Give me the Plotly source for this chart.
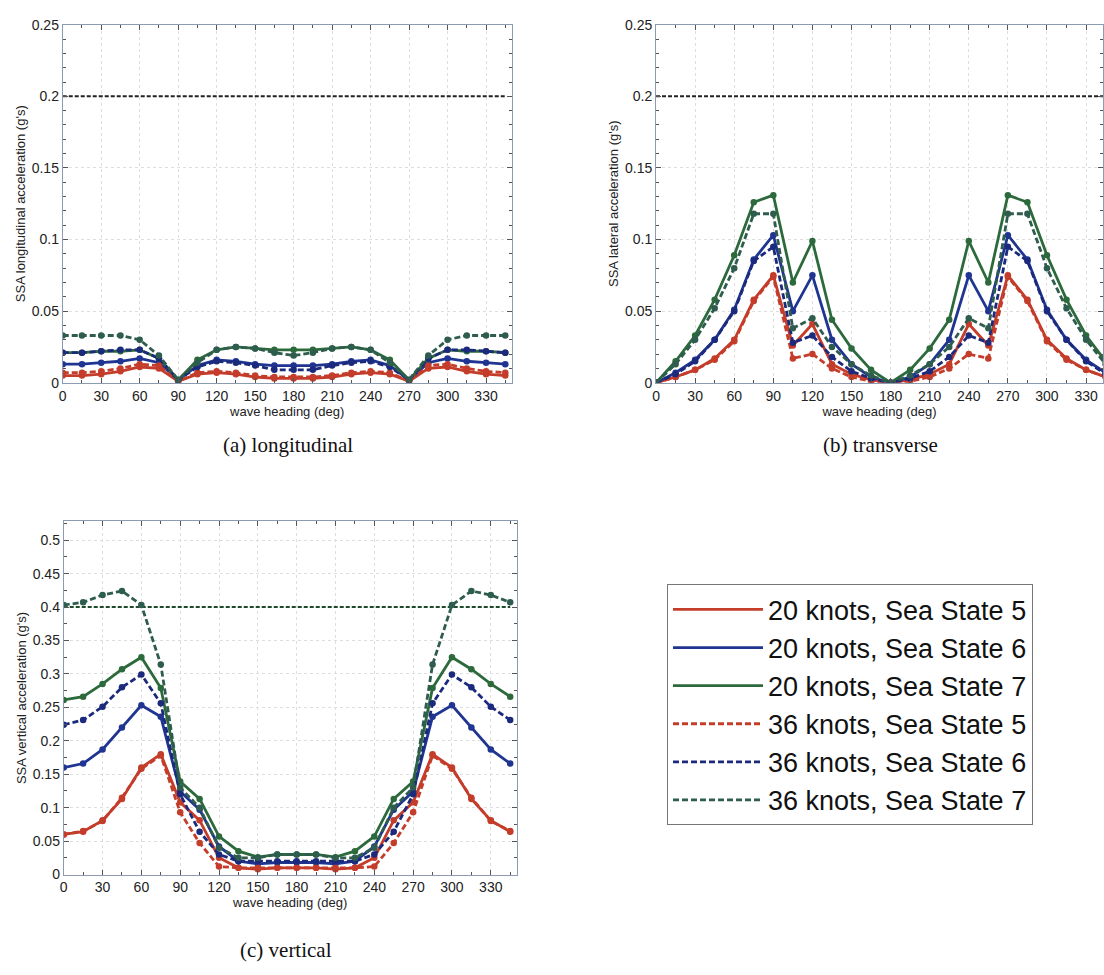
import plotly.graph_objects as go

headings = [0, 15, 30, 45, 60, 75, 90, 105, 120, 135, 150, 165, 180,
            195, 210, 225, 240, 255, 270, 285, 300, 315, 330, 345]

series_names = ["20 knots, Sea State 5", "20 knots, Sea State 6", "20 knots, Sea State 7",
                "36 knots, Sea State 5", "36 knots, Sea State 6", "36 knots, Sea State 7"]

# (a) longitudinal
long_20_ss5 = [0.005, 0.005, 0.006, 0.008, 0.011, 0.010, 0.001, 0.006, 0.007, 0.006, 0.004, 0.003, 0.003,
               0.003, 0.004, 0.006, 0.007, 0.006, 0.001, 0.010, 0.011, 0.008, 0.006, 0.005]
long_20_ss6 = [0.013, 0.013, 0.014, 0.015, 0.017, 0.014, 0.002, 0.012, 0.016, 0.015, 0.013, 0.012, 0.012,
               0.012, 0.013, 0.015, 0.016, 0.012, 0.002, 0.014, 0.017, 0.015, 0.014, 0.013]
long_20_ss7 = [0.021, 0.021, 0.022, 0.022, 0.023, 0.017, 0.002, 0.016, 0.023, 0.025, 0.024, 0.023, 0.023,
               0.023, 0.024, 0.025, 0.023, 0.016, 0.002, 0.017, 0.023, 0.022, 0.022, 0.021]
long_36_ss5 = [0.007, 0.007, 0.008, 0.010, 0.013, 0.012, 0.001, 0.007, 0.008, 0.007, 0.005, 0.004, 0.004,
               0.004, 0.005, 0.007, 0.008, 0.007, 0.001, 0.012, 0.013, 0.010, 0.008, 0.007]
long_36_ss6 = [0.021, 0.021, 0.022, 0.023, 0.023, 0.017, 0.002, 0.011, 0.015, 0.014, 0.012, 0.009, 0.009,
               0.009, 0.012, 0.014, 0.015, 0.011, 0.002, 0.017, 0.023, 0.023, 0.022, 0.021]
long_36_ss7 = [0.033, 0.033, 0.033, 0.033, 0.030, 0.019, 0.002, 0.014, 0.023, 0.025, 0.024, 0.021, 0.019,
               0.021, 0.024, 0.025, 0.023, 0.014, 0.002, 0.019, 0.030, 0.033, 0.033, 0.033]

# (b) transverse
lat_20_ss5 = [0.000, 0.004, 0.009, 0.017, 0.030, 0.058, 0.075, 0.026, 0.041, 0.013, 0.006, 0.002, 0.000,
              0.002, 0.006, 0.013, 0.041, 0.026, 0.075, 0.058, 0.030, 0.017, 0.009, 0.004]
lat_20_ss6 = [0.000, 0.007, 0.016, 0.030, 0.051, 0.086, 0.103, 0.050, 0.075, 0.030, 0.013, 0.004, 0.000,
              0.004, 0.013, 0.030, 0.075, 0.050, 0.103, 0.086, 0.051, 0.030, 0.016, 0.007]
lat_20_ss7 = [0.000, 0.015, 0.033, 0.058, 0.089, 0.126, 0.131, 0.070, 0.099, 0.044, 0.024, 0.009, 0.000,
              0.009, 0.024, 0.044, 0.099, 0.070, 0.131, 0.126, 0.089, 0.058, 0.033, 0.015]
lat_36_ss5 = [0.000, 0.004, 0.009, 0.016, 0.029, 0.057, 0.074, 0.017, 0.020, 0.010, 0.004, 0.001, 0.000,
              0.001, 0.004, 0.010, 0.020, 0.017, 0.074, 0.057, 0.029, 0.016, 0.009, 0.004]
lat_36_ss6 = [0.000, 0.006, 0.015, 0.030, 0.050, 0.085, 0.095, 0.028, 0.033, 0.018, 0.008, 0.003, 0.000,
              0.003, 0.008, 0.018, 0.033, 0.028, 0.095, 0.085, 0.050, 0.030, 0.015, 0.006]
lat_36_ss7 = [0.000, 0.013, 0.030, 0.052, 0.080, 0.118, 0.118, 0.038, 0.045, 0.025, 0.013, 0.005, 0.000,
              0.005, 0.013, 0.025, 0.045, 0.038, 0.118, 0.118, 0.080, 0.052, 0.030, 0.013]

# (c) vertical
vert_20_ss5 = [0.060, 0.064, 0.081, 0.113, 0.160, 0.180, 0.108, 0.081, 0.025, 0.010, 0.008, 0.010, 0.010,
               0.010, 0.008, 0.010, 0.025, 0.081, 0.108, 0.180, 0.160, 0.113, 0.081, 0.064]
vert_20_ss6 = [0.160, 0.166, 0.187, 0.220, 0.253, 0.236, 0.124, 0.097, 0.042, 0.020, 0.016, 0.018, 0.018,
               0.018, 0.016, 0.020, 0.042, 0.097, 0.124, 0.236, 0.253, 0.220, 0.187, 0.166]
vert_20_ss7 = [0.261, 0.266, 0.285, 0.307, 0.325, 0.279, 0.139, 0.113, 0.057, 0.035, 0.026, 0.030, 0.030,
               0.030, 0.026, 0.035, 0.057, 0.113, 0.139, 0.279, 0.325, 0.307, 0.285, 0.266]
vert_36_ss5 = [0.060, 0.065, 0.080, 0.115, 0.158, 0.178, 0.093, 0.047, 0.012, 0.010, 0.010, 0.010, 0.010,
               0.010, 0.010, 0.010, 0.012, 0.047, 0.093, 0.178, 0.158, 0.115, 0.080, 0.065]
vert_36_ss6 = [0.224, 0.231, 0.251, 0.280, 0.299, 0.256, 0.120, 0.064, 0.030, 0.020, 0.020, 0.020, 0.020,
               0.020, 0.020, 0.020, 0.030, 0.064, 0.120, 0.256, 0.299, 0.280, 0.251, 0.231]
vert_36_ss7 = [0.403, 0.407, 0.418, 0.424, 0.403, 0.314, 0.130, 0.100, 0.040, 0.025, 0.025, 0.030, 0.030,
               0.030, 0.025, 0.025, 0.040, 0.100, 0.130, 0.314, 0.403, 0.424, 0.418, 0.407]

limit_heading = [0, 345]
limit_long = [0.2, 0.2]
limit_lat = [0.2, 0.2]
limit_vert = [0.4, 0.4]

x_tickvals = [0, 30, 60, 90, 120, 150, 180, 210, 240, 270, 300, 330]

colors = ["#c43c2a", "#1f3591", "#2c6a3c", "#c43c2a", "#1b2a7c", "#2e5c4e"]
dashes = ["solid", "solid", "solid", "dash", "dash", "dash"]

panels = [
    ("x", "y", [long_20_ss5, long_20_ss6, long_20_ss7, long_36_ss5, long_36_ss6, long_36_ss7], limit_long, "#222222"),
    ("x2", "y2", [lat_20_ss5, lat_20_ss6, lat_20_ss7, lat_36_ss5, lat_36_ss6, lat_36_ss7], limit_lat, "#222222"),
    ("x3", "y3", [vert_20_ss5, vert_20_ss6, vert_20_ss7, vert_36_ss5, vert_36_ss6, vert_36_ss7], limit_vert, "#1e4a2c"),
]

fig = go.Figure()
for pi, (xa, ya, data, lim, limcol) in enumerate(panels):
    fig.add_trace(go.Scatter(x=limit_heading, y=lim, mode="lines", xaxis=xa, yaxis=ya,
                             line=dict(color=limcol, width=2, dash="4px,2px"),
                             showlegend=False, hoverinfo="skip"))
    for si, vals in enumerate(data):
        fig.add_trace(go.Scatter(x=headings, y=vals, mode="lines", xaxis=xa, yaxis=ya,
                                 name=series_names[si], legendgroup=series_names[si],
                                 showlegend=(pi == 0),
                                 line=dict(color=colors[si], width=2.8,
                                           dash=("6px,3px" if dashes[si] == "dash" else "solid"))))
        fig.add_trace(go.Scatter(x=headings, y=vals, mode="markers", xaxis=xa, yaxis=ya,
                                 legendgroup=series_names[si], showlegend=False,
                                 marker=dict(color=colors[si], size=6.5)))

tick_font = dict(family="Liberation Sans, Arial", size=14, color="#222222")
title_font = dict(family="Liberation Sans, Arial", size=13, color="#222222")

axis_common = dict(showline=True, linecolor="#8d9bb0", linewidth=1, mirror="ticks",
                   ticks="inside", ticklen=5, tickcolor="#555555",
                   showgrid=True, gridcolor="#dedede", griddash="dot", gridwidth=1,
                   zeroline=False, tickfont=tick_font)

xaxis_common = dict(axis_common, tickmode="array", tickvals=x_tickvals,
                    minor=dict(dtick=15, ticklen=3, ticks="inside", tickcolor="#555555", showgrid=False),
                    title=dict(text="wave heading (deg)", standoff=0, font=title_font))

caption_font = dict(family="Liberation Serif, Times New Roman", size=21, color="#111111")

fig.update_layout(
    width=1104, height=975,
    margin=dict(l=0, r=0, t=0, b=0),
    paper_bgcolor="white", plot_bgcolor="white",
    xaxis=dict(xaxis_common, domain=[59/1104, 510/1104], range=[0, 350], anchor="y"),
    yaxis=dict(axis_common, domain=[1-381/975, 1-17/975], range=[0, 0.25], dtick=0.05, anchor="x",
               minor=dict(dtick=0.01, ticklen=3, ticks="inside", tickcolor="#555555", showgrid=False),
               title=dict(text="SSA longitudinal acceleration (g's)", font=title_font, standoff=3)),
    xaxis2=dict(xaxis_common, domain=[655/1104, 1.0], range=[0, 343], anchor="y2"),
    yaxis2=dict(axis_common, domain=[1-381/975, 1-17/975], range=[0, 0.25], dtick=0.05, anchor="x2",
                minor=dict(dtick=0.01, ticklen=3, ticks="inside", tickcolor="#555555", showgrid=False),
                title=dict(text="SSA lateral acceleration (g's)", font=title_font, standoff=3)),
    xaxis3=dict(xaxis_common, domain=[60/1104, 515/1104], range=[0, 350], anchor="y3"),
    yaxis3=dict(axis_common, domain=[1-881/975, 1-522/975], range=[0, 0.528], dtick=0.05, anchor="x3",
                minor=dict(dtick=0.025, ticklen=3, ticks="inside", tickcolor="#555555", showgrid=False),
                title=dict(text="SSA vertical acceleration (g's)", font=title_font, standoff=3)),
    legend=dict(x=666/1104, y=1-586/975, xanchor="left", yanchor="top",
                bgcolor="white", bordercolor="#777777", borderwidth=1,
                font=dict(family="Liberation Sans, Arial", size=27, color="#111111"),
                itemwidth=90, tracegroupgap=0),
    annotations=[
        dict(text="(a) longitudinal", x=285/1104, y=1-444/975, xref="paper", yref="paper",
             xanchor="center", yanchor="middle", showarrow=False, font=caption_font),
        dict(text="(b) transverse", x=880/1104, y=1-444/975, xref="paper", yref="paper",
             xanchor="center", yanchor="middle", showarrow=False, font=caption_font),
        dict(text="(c) vertical", x=283/1104, y=1-958/975, xref="paper", yref="paper",
             xanchor="center", yanchor="middle", showarrow=False, font=caption_font),
    ],
)

fig.write_html("out.html")
